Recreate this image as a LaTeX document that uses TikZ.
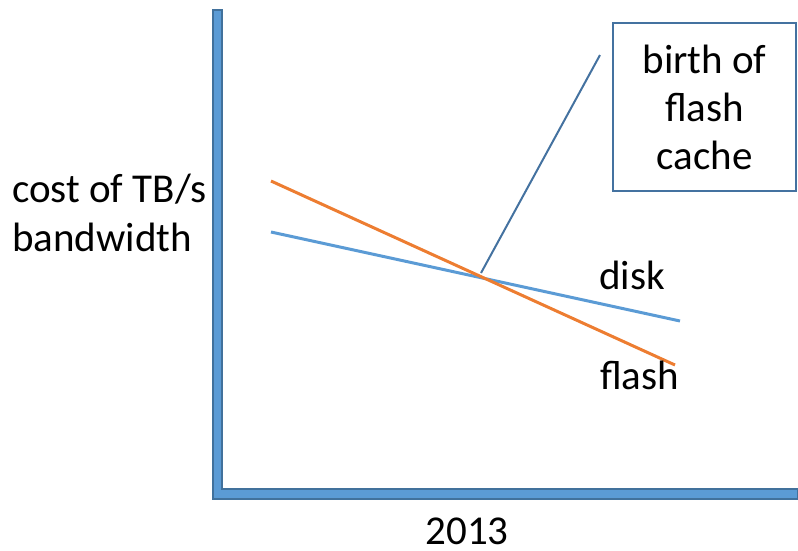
\documentclass[tikz,border=0pt]{standalone}
\usepackage{fontspec}
\setmainfont{Carlito}
\definecolor{axisfill}{HTML}{5B9BD5}
\definecolor{axisedge}{HTML}{41719C}
\definecolor{flashcol}{HTML}{ED7D31}
\definecolor{calloutcol}{HTML}{4472A0}
\begin{document}
\begin{tikzpicture}[x=1pt,y=-1pt,
  lbl/.style={font=\fontsize{41}{49}\selectfont, inner sep=0pt},
  trend/.style={line width=3pt},
  axisbar/.style={fill=axisfill, draw=axisedge, line width=1.5pt},
]
\useasboundingbox (0,0) rectangle (798,550);

% axes
\draw[axisbar] (213,10) -- (222,10) -- (222,489) -- (798,489) -- (798,499) -- (213,499) -- cycle;

% trend lines
\coordinate (d0) at (271,232);
\coordinate (d1) at (680,321);
\coordinate (f0) at (271,181);
\coordinate (f1) at (675,365);
\draw[trend, axisfill] (d0) -- (d1);
\draw[trend, flashcol] (f0) -- (f1);

% callout
\node[draw=calloutcol, line width=1.3pt, minimum width=183pt, minimum height=168pt,
      inner sep=0pt, align=center, font=\fontsize{41}{48}\selectfont]
      (box) at (704.5,107) {birth of\\flash\\cache};
\coordinate (c0) at (600,55);
\coordinate (c1) at (481,273);
\draw[calloutcol, line width=2pt] (c0) -- (c1);

% labels
\node[lbl, anchor=base west, align=left] (ylab) at (12,202) {cost of TB/s};
\node[lbl, anchor=base west] (ylab2) at (12,251) {bandwidth};
\node[lbl, anchor=base west] (disk) at (599,289) {disk};
\node[lbl, anchor=base west] (flash) at (600,389) {flash};
\node[lbl, anchor=base, text depth=0pt] (year) at (467,544) {2013};
\end{tikzpicture}
\end{document}
